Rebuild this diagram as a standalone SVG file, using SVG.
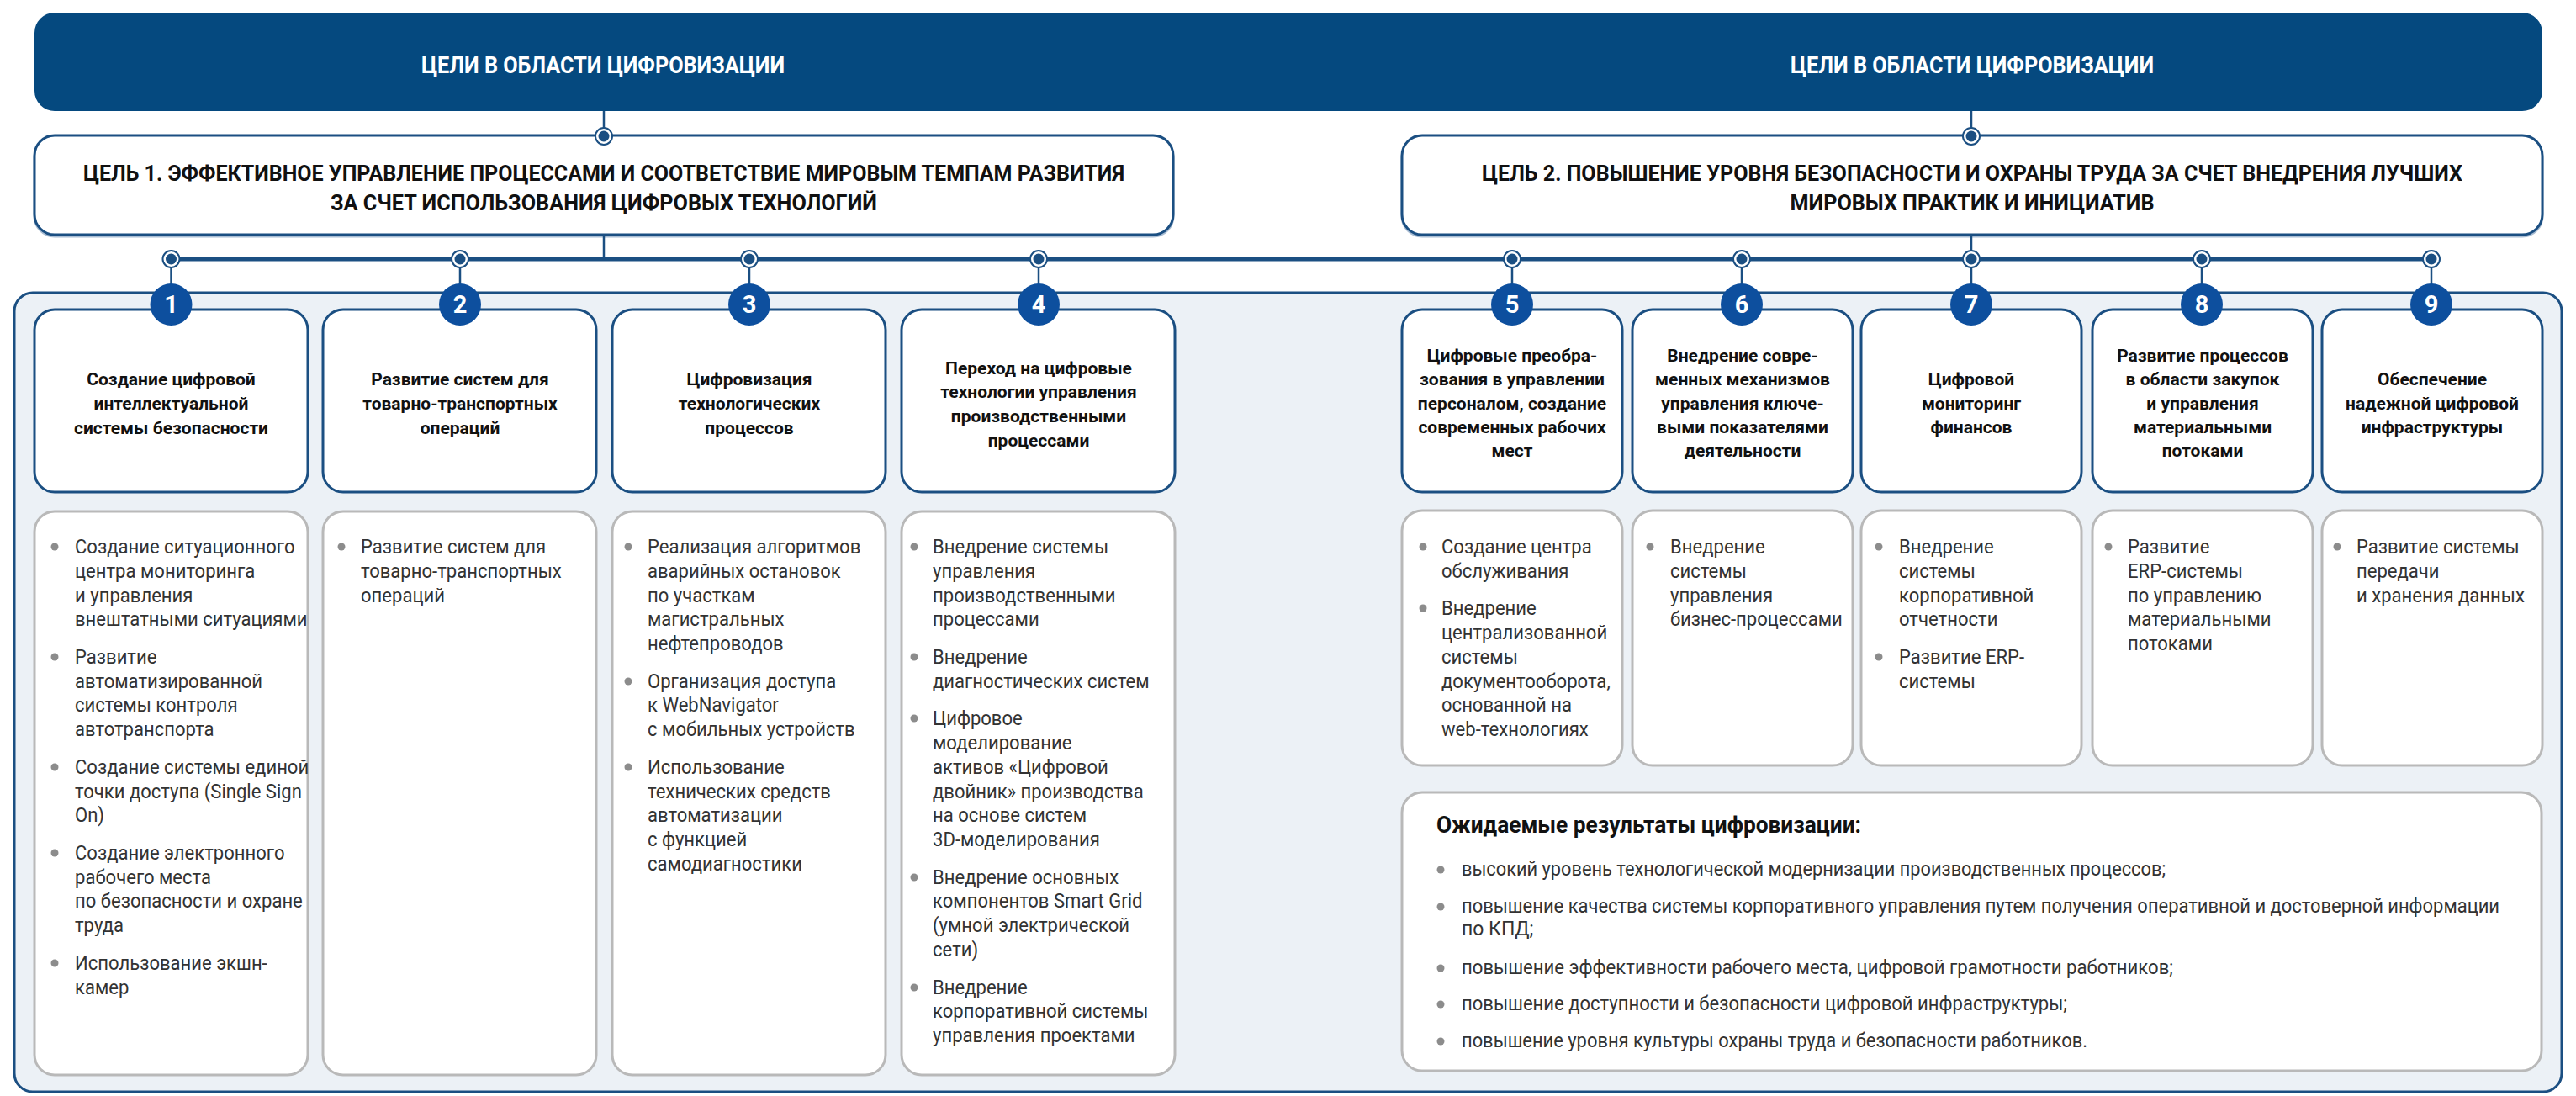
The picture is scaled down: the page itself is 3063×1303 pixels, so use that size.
<svg xmlns="http://www.w3.org/2000/svg" width="3063" height="1303" viewBox="0 0 3063 1303">
<style>
.bg{fill:#ffffff}
.banner{fill:#05497f}
.btxt{font-family:Roboto,"Noto Sans",sans-serif;font-weight:700;font-size:28px;fill:#ffffff;text-anchor:middle}
.goal{fill:#ffffff;stroke:#1b4f82;stroke-width:3}
.shadow{fill:none;stroke:#a9bdd3;stroke-width:3}
.gtxt{font-family:Roboto,"Noto Sans",sans-serif;font-weight:700;font-size:25px;fill:#111111;text-anchor:middle}
.panel{fill:#ecf1f6;stroke:#1b4f82;stroke-width:3}
.card{fill:#ffffff;stroke:#1b4f82;stroke-width:3}
.ctxt{font-family:Roboto,"Noto Sans",sans-serif;font-weight:700;font-size:21px;fill:#111111;text-anchor:middle}
.num{fill:#0d4f9e}
.ntxt{font-family:Roboto,"Noto Sans",sans-serif;font-weight:700;font-size:29px;fill:#ffffff;text-anchor:middle}
.box{fill:#ffffff;stroke:#b9b9b9;stroke-width:3}
.t{font-family:Roboto,"Noto Sans",sans-serif;font-weight:400;font-size:24px;fill:#333333}
.rt{font-family:Roboto,"Noto Sans",sans-serif;font-weight:400;font-size:23px;fill:#333333}
.rtitle{font-family:Roboto,"Noto Sans",sans-serif;font-weight:700;font-size:27px;fill:#111111}
.dot{fill:#8c8c8c}
.ln{stroke:#1b4f82;stroke-width:2.5;fill:none}
.bus{stroke:#1b4f82;stroke-width:5;fill:none}
.nodeo{fill:#ffffff;stroke:#1b4f82;stroke-width:2}
.nodei{fill:#1b4f82}
</style>
<defs>
<g id="node"><circle class="nodeo" r="10"/><circle class="nodei" r="6.5"/></g>
</defs>
<rect class="bg" x="0" y="0" width="3063" height="1303"/>

<g id="banner">
<rect class="banner" x="41" y="15" width="2982" height="117" rx="24"/>
<text class="btxt" x="717" y="87" textLength="432" lengthAdjust="spacingAndGlyphs">ЦЕЛИ В ОБЛАСТИ ЦИФРОВИЗАЦИИ</text>
<text class="btxt" x="2345" y="87" textLength="432" lengthAdjust="spacingAndGlyphs">ЦЕЛИ В ОБЛАСТИ ЦИФРОВИЗАЦИИ</text>
</g>

<g id="goal1">
<rect class="shadow" x="41" y="164" width="1354" height="117" rx="24"/>
<rect class="goal" x="41" y="161" width="1354" height="118" rx="24"/>
<text class="gtxt" x="718" y="215" textLength="1238" lengthAdjust="spacingAndGlyphs">ЦЕЛЬ 1. ЭФФЕКТИВНОЕ УПРАВЛЕНИЕ ПРОЦЕССАМИ И СООТВЕТСТВИЕ МИРОВЫМ ТЕМПАМ РАЗВИТИЯ</text>
<text class="gtxt" x="718" y="250" textLength="650" lengthAdjust="spacingAndGlyphs">ЗА СЧЕТ ИСПОЛЬЗОВАНИЯ ЦИФРОВЫХ ТЕХНОЛОГИЙ</text>
</g>

<g id="goal2">
<rect class="shadow" x="1667" y="164" width="1356" height="117" rx="24"/>
<rect class="goal" x="1667" y="161" width="1356" height="118" rx="24"/>
<text class="gtxt" x="2345" y="215" textLength="1166" lengthAdjust="spacingAndGlyphs">ЦЕЛЬ 2. ПОВЫШЕНИЕ УРОВНЯ БЕЗОПАСНОСТИ И ОХРАНЫ ТРУДА ЗА СЧЕТ ВНЕДРЕНИЯ ЛУЧШИХ</text>
<text class="gtxt" x="2345" y="250" textLength="433" lengthAdjust="spacingAndGlyphs">МИРОВЫХ ПРАКТИК И ИНИЦИАТИВ</text>
</g>

<rect class="panel" x="17" y="348" width="3029" height="950" rx="22"/>

<g id="connectors">
<line class="ln" x1="718" y1="132" x2="718" y2="162"/>
<line class="ln" x1="2344" y1="132" x2="2344" y2="162"/>
<line class="ln" x1="718" y1="279" x2="718" y2="308"/>
<line class="ln" x1="2344" y1="279" x2="2344" y2="308"/>
<line class="bus" x1="203" y1="308" x2="2891" y2="308"/>
<line class="ln" x1="203.5" y1="308" x2="203.5" y2="340"/>
<line class="ln" x1="547" y1="308" x2="547" y2="340"/>
<line class="ln" x1="891" y1="308" x2="891" y2="340"/>
<line class="ln" x1="1235" y1="308" x2="1235" y2="340"/>
<line class="ln" x1="1798" y1="308" x2="1798" y2="340"/>
<line class="ln" x1="2071" y1="308" x2="2071" y2="340"/>
<line class="ln" x1="2344" y1="308" x2="2344" y2="340"/>
<line class="ln" x1="2618" y1="308" x2="2618" y2="340"/>
<line class="ln" x1="2891" y1="308" x2="2891" y2="340"/>
<use href="#node" x="718" y="162"/>
<use href="#node" x="2344" y="162"/>
<use href="#node" x="203.5" y="308"/>
<use href="#node" x="547" y="308"/>
<use href="#node" x="891" y="308"/>
<use href="#node" x="1235" y="308"/>
<use href="#node" x="1798" y="308"/>
<use href="#node" x="2071" y="308"/>
<use href="#node" x="2344" y="308"/>
<use href="#node" x="2618" y="308"/>
<use href="#node" x="2891" y="308"/>
</g>

<g id="card1">
<rect class="card" x="41" y="368" width="325" height="217" rx="24"/>
<circle class="num" cx="203.5" cy="362" r="25"/><text class="ntxt" x="203.5" y="372">1</text>
<text class="ctxt" x="203.5" y="458">Создание цифровой</text>
<text class="ctxt" x="203.5" y="487">интеллектуальной</text>
<text class="ctxt" x="203.5" y="516">системы безопасности</text>
</g>
<g id="card2">
<rect class="card" x="384" y="368" width="325" height="217" rx="24"/>
<circle class="num" cx="547" cy="362" r="25"/><text class="ntxt" x="547" y="372">2</text>
<text class="ctxt" x="547" y="458">Развитие систем для</text>
<text class="ctxt" x="547" y="487">товарно-транспортных</text>
<text class="ctxt" x="547" y="516">операций</text>
</g>
<g id="card3">
<rect class="card" x="728" y="368" width="325" height="217" rx="24"/>
<circle class="num" cx="891" cy="362" r="25"/><text class="ntxt" x="891" y="372">3</text>
<text class="ctxt" x="891" y="458">Цифровизация</text>
<text class="ctxt" x="891" y="487">технологических</text>
<text class="ctxt" x="891" y="516">процессов</text>
</g>
<g id="card4">
<rect class="card" x="1072" y="368" width="325" height="217" rx="24"/>
<circle class="num" cx="1235" cy="362" r="25"/><text class="ntxt" x="1235" y="372">4</text>
<text class="ctxt" x="1235" y="445">Переход на цифровые</text>
<text class="ctxt" x="1235" y="473">технологии управления</text>
<text class="ctxt" x="1235" y="502">производственными</text>
<text class="ctxt" x="1235" y="531">процессами</text>
</g>
<g id="card5">
<rect class="card" x="1667" y="368" width="262" height="217" rx="24"/>
<circle class="num" cx="1798" cy="362" r="25"/><text class="ntxt" x="1798" y="372">5</text>
<text class="ctxt" x="1798" y="430">Цифровые преобра-</text>
<text class="ctxt" x="1798" y="458">зования в управлении</text>
<text class="ctxt" x="1798" y="487">персоналом, создание</text>
<text class="ctxt" x="1798" y="515">современных рабочих</text>
<text class="ctxt" x="1798" y="543">мест</text>
</g>
<g id="card6">
<rect class="card" x="1941" y="368" width="262" height="217" rx="24"/>
<circle class="num" cx="2071" cy="362" r="25"/><text class="ntxt" x="2071" y="372">6</text>
<text class="ctxt" x="2072" y="430">Внедрение совре-</text>
<text class="ctxt" x="2072" y="458">менных механизмов</text>
<text class="ctxt" x="2072" y="487">управления ключе-</text>
<text class="ctxt" x="2072" y="515">выми показателями</text>
<text class="ctxt" x="2072" y="543">деятельности</text>
</g>
<g id="card7">
<rect class="card" x="2213" y="368" width="262" height="217" rx="24"/>
<circle class="num" cx="2344" cy="362" r="25"/><text class="ntxt" x="2344" y="372">7</text>
<text class="ctxt" x="2344" y="458">Цифровой</text>
<text class="ctxt" x="2344" y="487">мониторинг</text>
<text class="ctxt" x="2344" y="515">финансов</text>
</g>
<g id="card8">
<rect class="card" x="2488" y="368" width="262" height="217" rx="24"/>
<circle class="num" cx="2618" cy="362" r="25"/><text class="ntxt" x="2618" y="372">8</text>
<text class="ctxt" x="2619" y="430">Развитие процессов</text>
<text class="ctxt" x="2619" y="458">в области закупок</text>
<text class="ctxt" x="2619" y="487">и управления</text>
<text class="ctxt" x="2619" y="515">материальными</text>
<text class="ctxt" x="2619" y="543">потоками</text>
</g>
<g id="card9">
<rect class="card" x="2761" y="368" width="262" height="217" rx="24"/>
<circle class="num" cx="2891" cy="362" r="25"/><text class="ntxt" x="2891" y="372">9</text>
<text class="ctxt" x="2892" y="458">Обеспечение</text>
<text class="ctxt" x="2892" y="487">надежной цифровой</text>
<text class="ctxt" x="2892" y="515">инфраструктуры</text>
</g>

<g id="list1">
<rect class="box" x="41" y="608" width="325" height="670" rx="24"/>
<circle class="dot" cx="65" cy="650" r="4.5"/>
<circle class="dot" cx="65" cy="781" r="4.5"/>
<circle class="dot" cx="65" cy="912" r="4.5"/>
<circle class="dot" cx="65" cy="1014" r="4.5"/>
<circle class="dot" cx="65" cy="1145" r="4.5"/>
<g transform="translate(89 0) scale(0.92 1)">
<text class="t" x="0" y="658">Создание ситуационного</text>
<text class="t" x="0" y="686.8">центра мониторинга</text>
<text class="t" x="0" y="715.6">и управления</text>
<text class="t" x="0" y="744.4">внештатными ситуациями</text>
<text class="t" x="0" y="788.9">Развитие</text>
<text class="t" x="0" y="817.7">автоматизированной</text>
<text class="t" x="0" y="846.5">системы контроля</text>
<text class="t" x="0" y="875.3">автотранспорта</text>
<text class="t" x="0" y="919.8">Создание системы единой</text>
<text class="t" x="0" y="948.6">точки доступа (Single Sign</text>
<text class="t" x="0" y="977.4">On)</text>
<text class="t" x="0" y="1021.9">Создание электронного</text>
<text class="t" x="0" y="1050.7">рабочего места</text>
<text class="t" x="0" y="1079.5">по безопасности и охране</text>
<text class="t" x="0" y="1108.3">труда</text>
<text class="t" x="0" y="1152.8">Использование экшн-</text>
<text class="t" x="0" y="1181.6">камер</text>
</g>
</g>

<g id="list2">
<rect class="box" x="384" y="608" width="325" height="670" rx="24"/>
<circle class="dot" cx="406" cy="650" r="4.5"/>
<g transform="translate(429 0) scale(0.92 1)">
<text class="t" x="0" y="658">Развитие систем для</text>
<text class="t" x="0" y="686.8">товарно-транспортных</text>
<text class="t" x="0" y="715.6">операций</text>
</g>
</g>

<g id="list3">
<rect class="box" x="728" y="608" width="325" height="670" rx="24"/>
<circle class="dot" cx="747" cy="650" r="4.5"/>
<circle class="dot" cx="747" cy="810" r="4.5"/>
<circle class="dot" cx="747" cy="912" r="4.5"/>
<g transform="translate(770 0) scale(0.92 1)">
<text class="t" x="0" y="658">Реализация алгоритмов</text>
<text class="t" x="0" y="686.8">аварийных остановок</text>
<text class="t" x="0" y="715.6">по участкам</text>
<text class="t" x="0" y="744.4">магистральных</text>
<text class="t" x="0" y="773.2">нефтепроводов</text>
<text class="t" x="0" y="817.7">Организация доступа</text>
<text class="t" x="0" y="846.5">к WebNavigator</text>
<text class="t" x="0" y="875.3">с мобильных устройств</text>
<text class="t" x="0" y="919.8">Использование</text>
<text class="t" x="0" y="948.6">технических средств</text>
<text class="t" x="0" y="977.4">автоматизации</text>
<text class="t" x="0" y="1006.2">с функцией</text>
<text class="t" x="0" y="1035">самодиагностики</text>
</g>
</g>

<g id="list4">
<rect class="box" x="1072" y="608" width="325" height="670" rx="24"/>
<circle class="dot" cx="1087" cy="650" r="4.5"/>
<circle class="dot" cx="1087" cy="781" r="4.5"/>
<circle class="dot" cx="1087" cy="854" r="4.5"/>
<circle class="dot" cx="1087" cy="1043" r="4.5"/>
<circle class="dot" cx="1087" cy="1174" r="4.5"/>
<g transform="translate(1109 0) scale(0.92 1)">
<text class="t" x="0" y="658">Внедрение системы</text>
<text class="t" x="0" y="686.8">управления</text>
<text class="t" x="0" y="715.6">производственными</text>
<text class="t" x="0" y="744.4">процессами</text>
<text class="t" x="0" y="788.9">Внедрение</text>
<text class="t" x="0" y="817.7">диагностических систем</text>
<text class="t" x="0" y="862.2">Цифровое</text>
<text class="t" x="0" y="891">моделирование</text>
<text class="t" x="0" y="919.8">активов «Цифровой</text>
<text class="t" x="0" y="948.6">двойник» производства</text>
<text class="t" x="0" y="977.4">на основе систем</text>
<text class="t" x="0" y="1006.2">3D-моделирования</text>
<text class="t" x="0" y="1050.7">Внедрение основных</text>
<text class="t" x="0" y="1079.5">компонентов Smart Grid</text>
<text class="t" x="0" y="1108.3">(умной электрической</text>
<text class="t" x="0" y="1137.1">сети)</text>
<text class="t" x="0" y="1181.6">Внедрение</text>
<text class="t" x="0" y="1210.4">корпоративной системы</text>
<text class="t" x="0" y="1239.2">управления проектами</text>
</g>
</g>

<g id="list5">
<rect class="box" x="1667" y="607" width="262" height="303" rx="24"/>
<circle class="dot" cx="1692" cy="650" r="4.5"/>
<circle class="dot" cx="1692" cy="723" r="4.5"/>
<g transform="translate(1714 0) scale(0.92 1)">
<text class="t" x="0" y="658">Создание центра</text>
<text class="t" x="0" y="686.8">обслуживания</text>
<text class="t" x="0" y="731.3">Внедрение</text>
<text class="t" x="0" y="760.1">централизованной</text>
<text class="t" x="0" y="788.9">системы</text>
<text class="t" x="0" y="817.7">документооборота,</text>
<text class="t" x="0" y="846.5">основанной на</text>
<text class="t" x="0" y="875.3">web-технологиях</text>
</g>
</g>

<g id="list6">
<rect class="box" x="1941" y="607" width="262" height="303" rx="24"/>
<circle class="dot" cx="1962" cy="650" r="4.5"/>
<g transform="translate(1986 0) scale(0.92 1)">
<text class="t" x="0" y="658">Внедрение</text>
<text class="t" x="0" y="686.8">системы</text>
<text class="t" x="0" y="715.6">управления</text>
<text class="t" x="0" y="744.4">бизнес-процессами</text>
</g>
</g>

<g id="list7">
<rect class="box" x="2213" y="607" width="262" height="303" rx="24"/>
<circle class="dot" cx="2234" cy="650" r="4.5"/>
<circle class="dot" cx="2234" cy="781" r="4.5"/>
<g transform="translate(2258 0) scale(0.92 1)">
<text class="t" x="0" y="658">Внедрение</text>
<text class="t" x="0" y="686.8">системы</text>
<text class="t" x="0" y="715.6">корпоративной</text>
<text class="t" x="0" y="744.4">отчетности</text>
<text class="t" x="0" y="788.9">Развитие ERP-</text>
<text class="t" x="0" y="817.7">системы</text>
</g>
</g>

<g id="list8">
<rect class="box" x="2488" y="607" width="262" height="303" rx="24"/>
<circle class="dot" cx="2507" cy="650" r="4.5"/>
<g transform="translate(2530 0) scale(0.92 1)">
<text class="t" x="0" y="658">Развитие</text>
<text class="t" x="0" y="686.8">ERP-системы</text>
<text class="t" x="0" y="715.6">по управлению</text>
<text class="t" x="0" y="744.4">материальными</text>
<text class="t" x="0" y="773.2">потоками</text>
</g>
</g>

<g id="list9">
<rect class="box" x="2761" y="607" width="262" height="303" rx="24"/>
<circle class="dot" cx="2779" cy="650" r="4.5"/>
<g transform="translate(2802 0) scale(0.92 1)">
<text class="t" x="0" y="658">Развитие системы</text>
<text class="t" x="0" y="686.8">передачи</text>
<text class="t" x="0" y="715.6">и хранения данных</text>
</g>
</g>

<g id="results">
<rect class="box" x="1667" y="942" width="1355" height="331" rx="24"/>
<text class="rtitle" x="1708" y="990" textLength="505" lengthAdjust="spacingAndGlyphs">Ожидаемые результаты цифровизации:</text>
<circle class="dot" cx="1713" cy="1034" r="4.5"/>
<text class="rt" x="1738" y="1041" textLength="837" lengthAdjust="spacingAndGlyphs">высокий уровень технологической модернизации производственных процессов;</text>
<circle class="dot" cx="1713" cy="1078" r="4.5"/>
<text class="rt" x="1738" y="1085" textLength="1234" lengthAdjust="spacingAndGlyphs">повышение качества системы корпоративного управления путем получения оперативной и достоверной информации</text>
<text class="rt" x="1738" y="1112">по КПД;</text>
<circle class="dot" cx="1713" cy="1151" r="4.5"/>
<text class="rt" x="1738" y="1158" textLength="846" lengthAdjust="spacingAndGlyphs">повышение эффективности рабочего места, цифровой грамотности работников;</text>
<circle class="dot" cx="1713" cy="1194" r="4.5"/>
<text class="rt" x="1738" y="1201" textLength="720" lengthAdjust="spacingAndGlyphs">повышение доступности и безопасности цифровой инфраструктуры;</text>
<circle class="dot" cx="1713" cy="1238" r="4.5"/>
<text class="rt" x="1738" y="1245" textLength="744" lengthAdjust="spacingAndGlyphs">повышение уровня культуры охраны труда и безопасности работников.</text>
</g>
</svg>
